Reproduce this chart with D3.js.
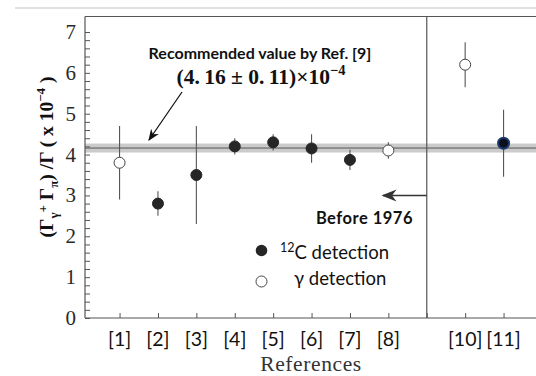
<!DOCTYPE html>
<html><head><meta charset="utf-8">
<script src="https://cdn.jsdelivr.net/npm/d3@7"></script>
<style>body{margin:0;background:#fff}svg{display:block}</style>
</head><body>
<script>
// ---- data ----
const refPositions = [1,2,3,4,5,6,7,8,10,11];
const refLabels = ["[1]","[2]","[3]","[4]","[5]","[6]","[7]","[8]","[10]","[11]"];
const values = [3.8, 2.8, 3.5, 4.2, 4.3, 4.15, 3.87, 4.1, 6.2, 4.28];
const errors = [0.9, 0.3, 1.2, 0.2, 0.2, 0.35, 0.25, 0.2, 0.55, 0.82];
const detection = ["gamma","C12","C12","C12","C12","C12","C12","gamma","gamma","C12new"];
const recommended = 4.16, recommendedErr = 0.11;
const yTicks = [0,1,2,3,4,5,6,7];
const dividerPos = 9;

const W = 536, H = 376;
const svg = d3.select("body").append("svg").attr("width", W).attr("height", H);

const x = d3.scaleLinear().domain([0.1, 12]).range([85, 85 + 11.9 * 38.4]);
const y = d3.scaleLinear().domain([0, 7]).range([318, 32]);
const plotTop = 16.5, plotLeft = 85, plotBottom = 318;

// outer frame line
svg.append("line").attr("x1", 15).attr("x2", W).attr("y1", 8).attr("y2", 8)
  .attr("stroke", "#c4c4c4").attr("stroke-width", 1.2);

// recommended band
svg.append("rect").attr("x", plotLeft).attr("width", W - plotLeft)
  .attr("y", y(recommended + recommendedErr)).attr("height", y(recommended - recommendedErr) - y(recommended + recommendedErr))
  .attr("fill", "#cbcbcb");
svg.append("line").attr("x1", plotLeft).attr("x2", W).attr("y1", y(recommended)).attr("y2", y(recommended))
  .attr("stroke", "#555").attr("stroke-width", 1);

// axes frame
const axCol = "#555";
svg.append("line").attr("x1", plotLeft).attr("x2", W).attr("y1", plotTop).attr("y2", plotTop).attr("stroke", axCol).attr("stroke-width", 1.2);

const yAxis = d3.axisLeft(y).tickValues(d3.range(0, 7.001, 0.2)).tickSize(-5).tickFormat("");
const gy = svg.append("g").attr("transform", `translate(${plotLeft},0)`).call(yAxis);
gy.select(".domain").remove();
gy.selectAll(".tick line").attr("stroke", axCol);
svg.append("line").attr("x1", plotLeft).attr("x2", plotLeft).attr("y1", plotTop).attr("y2", plotBottom).attr("stroke", axCol).attr("stroke-width", 1.2);

svg.selectAll("text.ylab").data(yTicks).join("text").attr("class", "ylab")
  .attr("x", 76).attr("y", d => y(d) + 7).attr("text-anchor", "end")
  .attr("font-family", "Liberation Serif, serif").attr("font-size", 21).attr("fill", "#2a2a2a")
  .text(d => d);

const xAxis = d3.axisBottom(x).tickValues(d3.range(1, 12)).tickSize(-5).tickFormat("");
const gx = svg.append("g").attr("transform", `translate(0,${plotBottom})`).call(xAxis);
gx.select(".domain").remove();
gx.selectAll(".tick line").attr("stroke", axCol);
svg.append("line").attr("x1", plotLeft).attr("x2", W).attr("y1", plotBottom).attr("y2", plotBottom).attr("stroke", axCol).attr("stroke-width", 1.2);

svg.selectAll("text.xlab").data(refPositions).join("text").attr("class", "xlab")
  .attr("x", d => x(d)).attr("y", 346).attr("text-anchor", "middle")
  .attr("font-family", "Lato, sans-serif").attr("font-size", 19.5).attr("fill", "#111")
  .text((d, i) => refLabels[i]);

svg.append("text").attr("x", 311).attr("y", 371).attr("text-anchor", "middle")
  .attr("font-family", "Liberation Serif, serif").attr("font-size", 21.5).attr("letter-spacing", 0.6).attr("fill", "#333")
  .text("References");

// divider
svg.append("line").attr("x1", x(dividerPos)).attr("x2", x(dividerPos)).attr("y1", plotTop).attr("y2", plotBottom)
  .attr("stroke", axCol).attr("stroke-width", 1.2);

// y title
const yt = svg.append("text").attr("transform", "translate(53,157) rotate(-90)")
  .attr("text-anchor", "middle").attr("font-family", "Liberation Serif, serif")
  .attr("font-weight", "bold").attr("font-size", 19.5).attr("fill", "#111");
yt.append("tspan").text("(Γ");
yt.append("tspan").attr("font-size", 13).attr("dy", 5).text("γ");
yt.append("tspan").attr("font-size", 13).attr("dy", -11).text("+");
yt.append("tspan").attr("dy", 6).text(" Γ");
yt.append("tspan").attr("font-size", 13).attr("dy", 5).text("π");
yt.append("tspan").attr("dy", -5).text(") /Γ ( x 10");
yt.append("tspan").attr("font-size", 13).attr("dy", -8).text("−4");
yt.append("tspan").attr("dy", 8).text(" )");

// markers
const defs = svg.append("defs");
defs.append("marker").attr("id", "ah").attr("viewBox", "0 0 10 10").attr("refX", 9).attr("refY", 5)
  .attr("markerWidth", 9).attr("markerHeight", 9).attr("orient", "auto-start-reverse")
  .append("path").attr("d", "M0,1 L10,5 L0,9 L3,5 Z").attr("fill", "#111");
defs.append("marker").attr("id", "ah2").attr("viewBox", "0 0 10 10").attr("refX", 9).attr("refY", 5)
  .attr("markerWidth", 12).attr("markerHeight", 10).attr("orient", "auto-start-reverse")
  .append("path").attr("d", "M0,1 L10,5 L0,9 L3,5 Z").attr("fill", "#333");

// annotation
svg.append("text").attr("x", 260).attr("y", 59).attr("text-anchor", "middle")
  .attr("font-family", "Lato, sans-serif").attr("font-weight", "bold").attr("font-size", 16).attr("fill", "#111")
  .text("Recommended value by Ref. [9]");
const ann = svg.append("text").attr("x", 261).attr("y", 83.5).attr("text-anchor", "middle")
  .attr("font-family", "Liberation Serif, serif").attr("font-weight", "bold").attr("font-size", 21.5).attr("fill", "#111");
ann.append("tspan").text("(4.\u200916 ± 0.\u200911)×10");
ann.append("tspan").attr("font-size", 14.5).attr("dy", -9).text("−4");
svg.append("line").attr("x1", 182).attr("y1", 92).attr("x2", 149).attr("y2", 140)
  .attr("stroke", "#111").attr("stroke-width", 1.3).attr("marker-end", "url(#ah)");

svg.append("line").attr("x1", x(dividerPos)).attr("y1", 195.5).attr("x2", 383).attr("y2", 195.5)
  .attr("stroke", "#333").attr("stroke-width", 1.5).attr("marker-end", "url(#ah2)");
svg.append("text").attr("x", 413).attr("y", 224).attr("text-anchor", "end")
  .attr("font-family", "Lato, sans-serif").attr("font-weight", "bold").attr("font-size", 16.5).attr("letter-spacing", 0.5).attr("fill", "#111")
  .text("Before 1976");

// error bars and points
const pts = refPositions.map((p, i) => ({p, v: values[i], e: errors[i], t: detection[i]}));
svg.selectAll("line.err").data(pts).join("line").attr("class", "err")
  .attr("x1", d => x(d.p)).attr("x2", d => x(d.p))
  .attr("y1", d => y(d.v + d.e)).attr("y2", d => y(d.v - d.e))
  .attr("stroke", "#555").attr("stroke-width", 1.1);
svg.selectAll("circle.pt").data(pts).join("circle").attr("class", "pt")
  .attr("cx", d => x(d.p)).attr("cy", d => y(d.v)).attr("r", 5.5)
  .attr("fill", d => d.t === "gamma" ? "#fff" : (d.t === "C12new" ? "#0b0f1e" : "#262626"))
  .attr("stroke", d => d.t === "gamma" ? "#444" : (d.t === "C12new" ? "#1e3a6a" : "#262626"))
  .attr("stroke-width", d => d.t === "C12new" ? 2 : 1);

// legend
svg.append("circle").attr("cx", 261.5).attr("cy", 250.5).attr("r", 5.8).attr("fill", "#262626");
svg.append("circle").attr("cx", 261.5).attr("cy", 281.5).attr("r", 5.5).attr("fill", "#fff").attr("stroke", "#444");
const l1 = svg.append("text").attr("x", 280).attr("y", 259).attr("font-family", "Lato, sans-serif")
  .attr("font-size", 18.5).attr("fill", "#111");
l1.append("tspan").attr("font-size", 12.5).attr("dy", -7).text("12");
l1.append("tspan").attr("dy", 7).text("C detection");
svg.append("text").attr("x", 294).attr("y", 285).attr("font-family", "Lato, sans-serif")
  .attr("font-size", 18.5).attr("fill", "#111").text("γ detection");
</script>
</body></html>
